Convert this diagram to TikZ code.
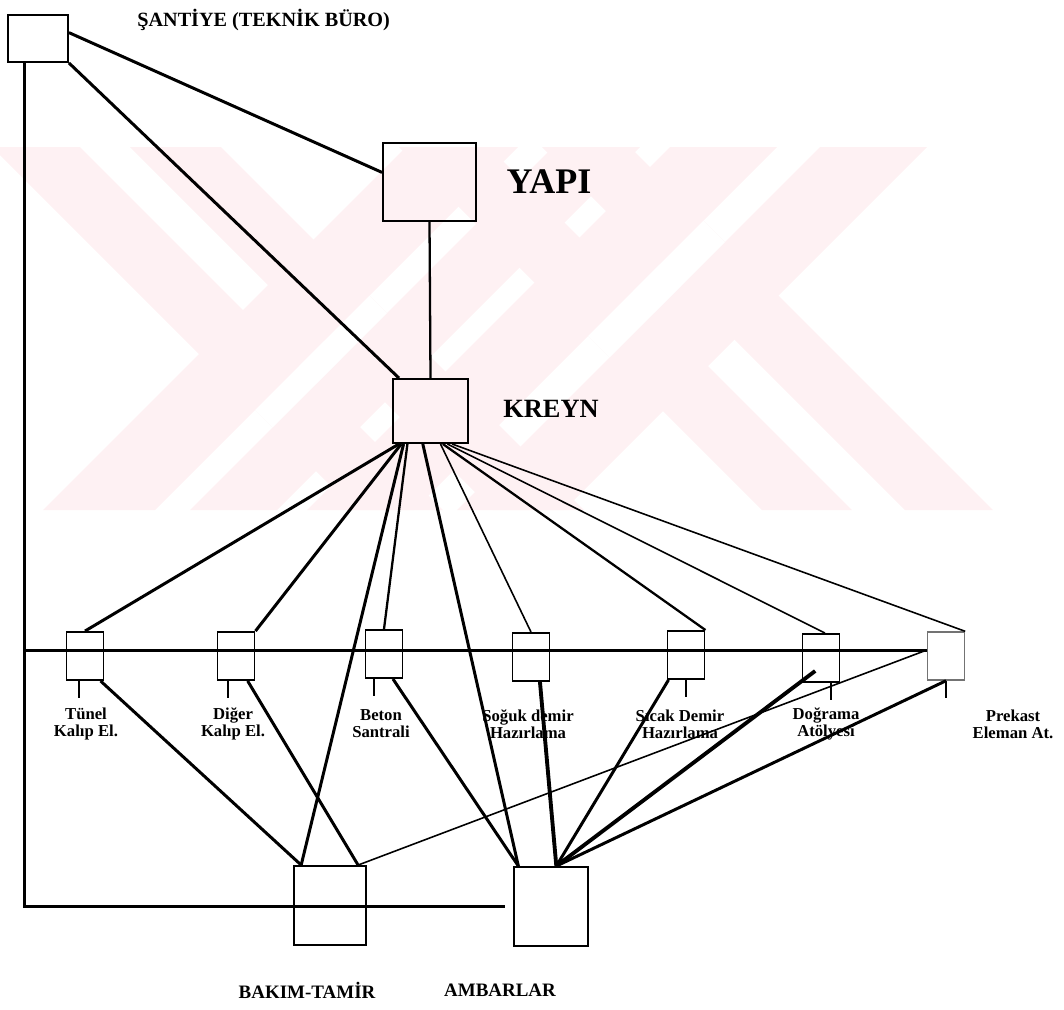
\documentclass[tikz,border=0pt]{standalone}
\usepackage{fontspec}
\setmainfont{Liberation Serif}
\usetikzlibrary{calc}
\definecolor{wmpink}{RGB}{254,241,243}
\tikzset{basic/.style={draw,line width=1.1pt,inner sep=0pt}}
\tikzset{cell/.style={basic,minimum width=0.74cm,minimum height=0.96cm}}
\tikzset{lbl/.style={font=\bfseries\fontsize{9.5}{9.7}\selectfont,align=center,inner sep=0pt}}
\tikzset{title/.style={font=\bfseries\fontsize{11.5}{13}\selectfont,inner sep=0pt}}
\tikzset{heavy/.style={line width=1.7pt}}
\tikzset{heavier/.style={line width=2.2pt}}
\tikzset{wire/.style={line width=1.3pt}}
\tikzset{lightwire/.style={line width=0.9pt}}
\begin{document}
\begin{tikzpicture}[x=0.02cm,y=-0.02cm]
    \useasboundingbox (0,0) rectangle (1064,1009);

    % watermark
    \begin{scope}
      \clip (0,147) rectangle (1064,510);
      \foreach \a/\b in {-155/-67,-17/74,252/342,395/483}{
        \fill[wmpink] ({147+(\a)},147) -- ({147+(\b)},147) -- ({510+(\b)},510) -- ({510+(\a)},510) -- cycle;
      }
      \foreach \c/\d in {553/665,700/787,817/924,967/1074}{
        \fill[wmpink] ({\c-147},147) -- ({\d-147},147) -- ({\d-510},510) -- ({\c-510},510) -- cycle;
      }
      \foreach \a/\b/\c/\d in {-155/74/665/700,252/483/924/967}{
        \begin{scope}
          \clip ({147+(\a)},147) -- ({147+(\b)},147) -- ({510+(\b)},510) -- ({510+(\a)},510) -- cycle;
          \fill[white] ({\c-147},147) -- ({\d-147},147) -- ({\d-510},510) -- ({\c-510},510) -- cycle;
        \end{scope}
      }
    \end{scope}

    % main boxes
    \node[basic,minimum width=1.2cm,minimum height=0.94cm] (santiye) at (38,38.5) {};
    \node[basic,minimum width=1.86cm,minimum height=1.56cm] (yapi) at (429.5,182) {};
    \node[basic,minimum width=1.5cm,minimum height=1.28cm] (kreyn) at (430.5,411) {};
    \node[basic,minimum width=1.44cm,minimum height=1.58cm] (bakim) at (330,905.5) {};
    \node[basic,minimum width=1.48cm,minimum height=1.58cm] (ambar) at (551,906.5) {};

    % units
    \foreach \n/\x/\y in {tunel/85/656,diger/236/656,beton/384/654,soguk/531/657,sicak/686/655,dograma/821/658}{
      \node[cell] (\n) at (\x,\y) {};
    }
    \node[cell,draw=black!55,line width=0.8pt] (prekast) at (946,656) {};

    % labels
    \node[title,anchor=west] (santiyeLbl) at (137,20) {ŞANTİYE (TEKNİK BÜRO)};
    \node[font=\bfseries\fontsize{20.5}{24}\selectfont,inner sep=0pt] (yapiLbl) at (549,182) {YAPI};
    \node[font=\bfseries\fontsize{15}{17}\selectfont,inner sep=0pt] (kreynLbl) at (551,409) {KREYN};
    \foreach \n/\x/\t in {tunel/86/{Tünel\\Kalıp El.},diger/233/{Diğer\\Kalıp El.},beton/381/{Beton\\Santrali},
                          soguk/528/{Soğuk demir\\Hazırlama},sicak/680/{Sıcak Demir\\Hazırlama},
                          dograma/826/{Doğrama\\Atölyesi},prekast/1013/{Prekast\\Eleman At.}}{
      \node[lbl] (\n Lbl) at (\x,724) {\t};
    }
    \node[title,font=\bfseries\fontsize{10.8}{13}\selectfont] (bakimLbl) at (307,990) {BAKIM-TAMİR};
    \node[title,font=\bfseries\fontsize{10.8}{13}\selectfont] (ambarLbl) at (500,990) {AMBARLAR};

    % santiye links
    \draw[heavy] ($(santiye.north east)!0.38!(santiye.south east)$) -- ($(yapi.north west)!0.38!(yapi.south west)$);
    \draw[heavy] (santiye.south east) -- ($(kreyn.north west)!0.09!(kreyn.north east)$);
    \draw[wire] (yapi.south) -- (kreyn.north);
    \coordinate (sv) at ($(santiye.south west)!0.28!(santiye.south east)$);
    \draw[heavy] (sv) |- ($(ambar.west)+(-8,0)$);

    % bus through the units
    \coordinate (busEnd) at ($(prekast.west)+(0,-6)$);
    \draw[heavy] (busEnd) -- (busEnd -| sv);

    % end points on the lower boxes
    \coordinate (bakimL) at ($(bakim.north west)!0.11!(bakim.north east)$);
    \coordinate (bakimR) at ($(bakim.north west)!0.88!(bakim.north east)$);
    \coordinate (ambarL) at ($(ambar.north west)!0.07!(ambar.north east)$);
    \coordinate (ambarM) at ($(ambar.north west)!0.57!(ambar.north east)$);
    \coordinate (dogramaN) at ($(dograma.north west)!0.6!(dograma.north east)$);

    % links from kreyn
    \foreach \f/\t/\s in {0.09/tunel.north/heavy,0.12/diger.north east/heavy,0.15/bakimL/heavy,
                          0.2/beton.north/wire,0.4/ambarL/heavy,0.63/soguk.north/lightwire,
                          0.66/sicak.north east/wire,0.72/dogramaN/lightwire,0.78/prekast.north east/lightwire}{
      \draw[\s] ($(kreyn.south west)!\f!(kreyn.south east)$) -- (\t);
    }

    % links to bakim-tamir and ambarlar
    \foreach \n/\f/\t/\s in {tunel/0.9/bakimL/heavy,diger/0.8/bakimR/heavy,beton/0.73/ambarL/heavy,
                             soguk/0.73/ambarM/heavier,sicak/0.05/ambarM/heavy}{
      \draw[\s] ($(\n.south west)!\f!(\n.south east)$) -- (\t);
    }
    \draw[heavier] ($(dograma.south west)!0.35!(dograma.south east)+(0,-12)$) -- (ambarM);
    \draw[heavy] (prekast.south) -- (ambarM);
    \draw[lightwire] (bakimR) -- (busEnd);

    % ticks under the units
    \foreach \n/\f in {tunel/0.35,diger/0.3,beton/0.25,sicak/0.5,dograma/0.75,prekast/0.5}{
      \draw[wire] ($(\n.south west)!\f!(\n.south east)$) -- ++(0,17);
    }
\end{tikzpicture}
\end{document}
